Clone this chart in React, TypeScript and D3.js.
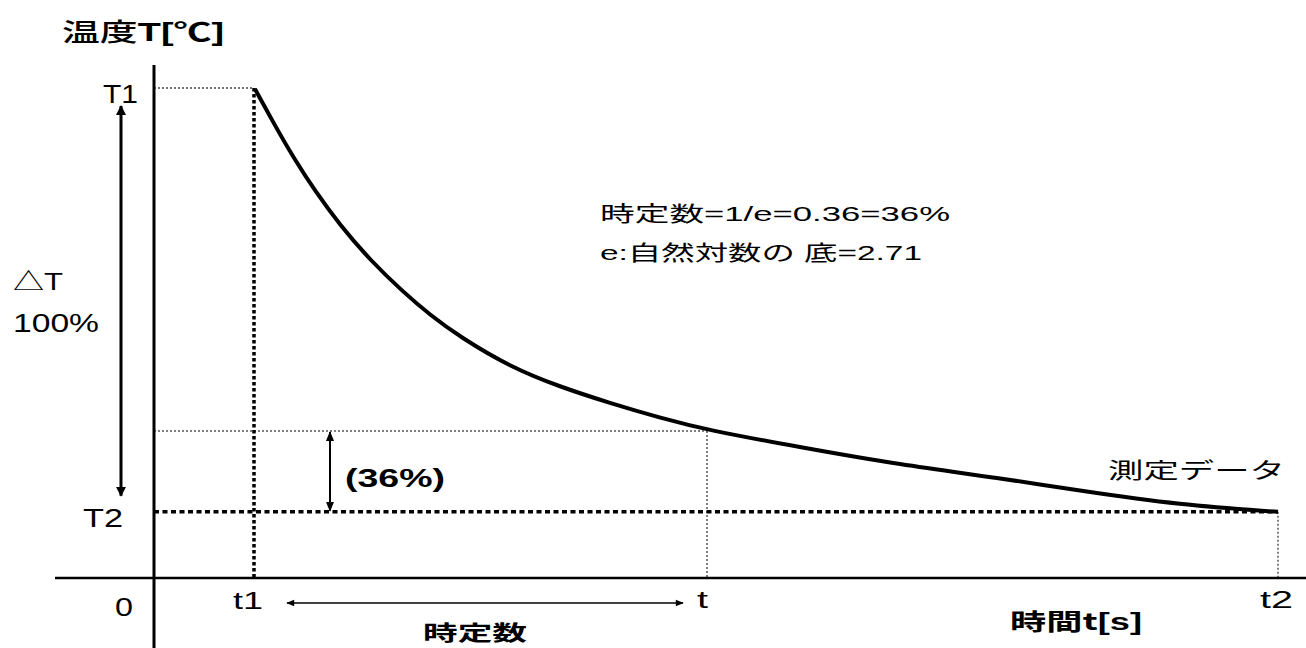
import React from "react";
import * as d3 from "d3";

const W = 1306;
const H = 648;

// Curve data (time units, temperature %)
const curveTime = [10.1, 12.3, 14.1, 16.1, 18.6, 21.6, 24.9, 27.6, 30.6, 35.6, 40.6, 45.6, 50.6, 55.3, 64.6, 74.6, 84.6, 92.6, 102.6, 112.4];
const curveTemp = [99.8, 91.6, 85.3, 79.0, 72.0, 64.9, 58.4, 53.7, 49.2, 43.1, 39.0, 35.7, 32.7, 30.2, 26.7, 23.1, 20.4, 17.8, 14.9, 13.5];

const T1 = 100;
const T2 = 13.5;
const T36 = 30.0;
const t1 = 10;
const tc = 55.3;
const t2 = 112.4;

const FONT = "'Liberation Sans', Arial, 'Noto Sans CJK JP', sans-serif";
const CJK = "'Noto Sans CJK JP', sans-serif";

export default function App() {
  const x = d3.scaleLinear().domain([0, 115.2]).range([154, 1306]);
  const y = d3.scaleLinear().domain([0, 100]).range([578, 88]);

  const pts: [number, number][] = curveTime.map((t, i) => [t, curveTemp[i]]);
  const line = d3
    .line<[number, number]>()
    .x((d) => x(d[0]))
    .y((d) => y(d[1]))
    .curve(d3.curveBasis);

  const fit = { lengthAdjust: "spacingAndGlyphs" as const };

  return (
    <svg
      width={W}
      height={H}
      style={{ position: "absolute", left: 0, top: 0, background: "#fff" }}
      fontFamily={FONT}
    >
      <defs>
        <marker id="bigHead" viewBox="0 0 10 10" refX="9" refY="5" markerWidth="10" markerHeight="10" markerUnits="userSpaceOnUse" orient="auto-start-reverse">
          <path d="M0,0 L10,5 L0,10 z" fill="#000" />
        </marker>
        <marker id="smallHead" viewBox="0 0 10 10" refX="9" refY="5" markerWidth="12" markerHeight="8" markerUnits="userSpaceOnUse" orient="auto-start-reverse">
          <path d="M0,1 L10,5 L0,9 z" fill="#000" />
        </marker>
        <marker id="midHead" viewBox="0 0 10 10" refX="9" refY="5" markerWidth="10" markerHeight="10" markerUnits="userSpaceOnUse" orient="auto-start-reverse">
          <path d="M0,1 L10,5 L0,9 z" fill="#000" />
        </marker>
      </defs>

      {/* Title */}
      <text x={62} y={41} fontSize={25} fill="#000" textLength={162} {...fit}>
        <tspan fontFamily={CJK} fontWeight="500">温度</tspan>
        <tspan fontWeight="bold">T[℃]</tspan>
      </text>

      {/* Reference lines */}
      <line x1={x(0)} x2={x(t1)} y1={y(T1)} y2={y(T1)} stroke="#444" strokeWidth={1.5} strokeDasharray="2,2" />
      <line x1={x(0)} x2={x(tc)} y1={y(T36)} y2={y(T36)} stroke="#555" strokeWidth={1.5} strokeDasharray="2,2" />
      <line x1={x(tc)} x2={x(tc)} y1={y(T36)} y2={y(0)} stroke="#555" strokeWidth={1.5} strokeDasharray="2,2" />
      <line x1={x(t2)} x2={x(t2)} y1={y(T2)} y2={y(0)} stroke="#555" strokeWidth={1.5} strokeDasharray="2,2" />
      <line x1={x(t1)} x2={x(t1)} y1={y(T1)} y2={y(0)} stroke="#000" strokeWidth={3.5} strokeDasharray="3.5,2.5" />
      <line x1={x(0)} x2={x(t2)} y1={y(T2)} y2={y(T2)} stroke="#000" strokeWidth={3.5} strokeDasharray="5,3.5" />

      {/* Axes */}
      <line x1={x(0)} x2={x(0)} y1={65} y2={H} stroke="#000" strokeWidth={3} />
      <line x1={55} x2={W} y1={y(0)} y2={y(0)} stroke="#000" strokeWidth={2.5} />

      {/* Curve */}
      <path d={line(pts) || ""} fill="none" stroke="#000" strokeWidth={4} strokeLinejoin="round" />

      {/* ΔT double arrow */}
      <line x1={121} x2={121} y1={y(T1) + 18} y2={y(T2) - 16} stroke="#000" strokeWidth={3} markerStart="url(#bigHead)" markerEnd="url(#bigHead)" />

      {/* 36% double arrow */}
      <line x1={330} x2={330} y1={y(T36) + 1} y2={y(T2) - 1} stroke="#000" strokeWidth={2} markerStart="url(#midHead)" markerEnd="url(#midHead)" />

      {/* time constant arrow */}
      <line x1={x(t1) + 33} x2={x(tc) - 24} y1={603} y2={603} stroke="#000" strokeWidth={1.5} markerStart="url(#smallHead)" markerEnd="url(#smallHead)" />

      {/* Y labels */}
      <text x={103} y={103} fontSize={26} fill="#000" textLength={35} {...fit}>T1</text>
      <text x={83} y={527} fontSize={26} fill="#000" textLength={40} {...fit}>T2</text>
      <text x={13} y={290} fontSize={24} fill="#000" textLength={50} {...fit}>△T</text>
      <text x={13} y={332} fontSize={25} fill="#000" textLength={86} {...fit}>100%</text>

      {/* X labels */}
      <text x={115} y={616} fontSize={25} fill="#000" textLength={18} {...fit}>0</text>
      <text x={233} y={609} fontSize={24} fill="#000" textLength={30} {...fit}>t1</text>
      <text x={697} y={608} fontSize={24} fill="#000" textLength={11} {...fit}>t</text>
      <text x={1260} y={608} fontSize={24} fill="#000" textLength={33} {...fit}>t2</text>
      <text x={423} y={640} fontSize={21} fill="#000" fontWeight="bold" fontFamily={CJK} textLength={104} {...fit}>時定数</text>
      <text x={1010} y={630} fontSize={23} fill="#000" textLength={132} {...fit}>
        <tspan fontFamily={CJK} fontWeight="bold">時間t</tspan>
        <tspan fontWeight="bold">[s]</tspan>
      </text>

      {/* Annotations */}
      <text x={345} y={487} fontSize={26} fontWeight="bold" fill="#000" textLength={100} {...fit}>(36%)</text>
      <text x={600} y={221} fontSize={21} fill="#000" textLength={350} {...fit}>時定数=1/e=0.36=36%</text>
      <text x={600} y={260} fontSize={21} fill="#000" textLength={322} {...fit}>e:自然対数の 底=2.71</text>
      <text x={1108} y={478} fontSize={22} fill="#000" textLength={177} {...fit}>測定データ</text>
    </svg>
  );
}
